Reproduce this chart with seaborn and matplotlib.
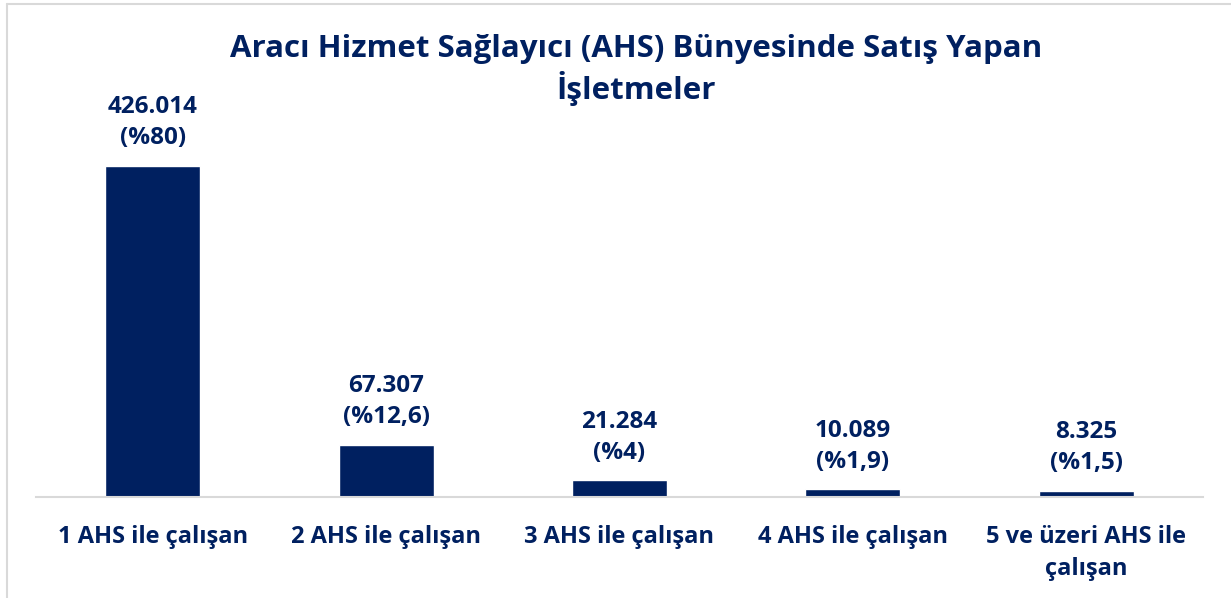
import matplotlib
matplotlib.use("Agg")
import matplotlib.pyplot as plt
import seaborn as sns
import pandas as pd
from matplotlib.lines import Line2D

categories = ["1 AHS ile çalışan", "2 AHS ile çalışan", "3 AHS ile çalışan",
              "4 AHS ile çalışan", "5 ve üzeri AHS ile\nçalışan"]
values = [426014, 67307, 21284, 10089, 8325]
value_labels = ["426.014", "67.307", "21.284", "10.089", "8.325"]
percent_labels = ["%80", "%12,6", "%4", "%1,9", "%1,5"]
title = "Aracı Hizmet Sağlayıcı (AHS) Bünyesinde Satış Yapan\nİşletmeler"

NAVY = "#002060"

sns.set_theme(style="white")
plt.rcParams["font.family"] = ["Open Sans", "DejaVu Sans"]

W, H = 1231, 598
fig = plt.figure(figsize=(W / 100, H / 100), dpi=100)
ax = fig.add_axes([36 / W, 101 / H, (1203 - 36) / W, 350 / H])

df = pd.DataFrame({"cat": categories, "val": values})
sns.barplot(data=df, x="cat", y="val", color=NAVY, saturation=1, width=0.407, ax=ax)

ax.set_ylim(0, 450000)
ax.set_xlim(-0.5, len(categories) - 0.5)
ax.set_xlabel("")
ax.set_ylabel("")
ax.set_yticks([])
for s in ["top", "right", "left"]:
    ax.spines[s].set_visible(False)
ax.spines["bottom"].set_color("#d9d9d9")
ax.spines["bottom"].set_linewidth(1.5)
ax.tick_params(axis="x", length=0, pad=20)
for lbl in ax.get_xticklabels():
    lbl.set_fontsize(17)
    lbl.set_fontweight("bold")
    lbl.set_color(NAVY)
    lbl.set_linespacing(1.48)
    lbl.set_va("top")

for p, v, pc in zip(ax.patches, value_labels, percent_labels):
    x = p.get_x() + p.get_width() / 2
    ax.annotate(f"{v}\n({pc})", (x, p.get_height()), xytext=(0, 11),
                textcoords="offset points", ha="center", va="bottom",
                fontsize=17.5, fontweight="bold", color=NAVY, linespacing=1.4)

fig.text(636 / W, 1 - 70 / H, title, ha="center", va="center", fontsize=22.5,
         fontweight="bold", color=NAVY, linespacing=1.25)

fig.add_artist(Line2D([7 / W, 7 / W], [0, 1 - 3.5 / H], transform=fig.transFigure,
                      color="#d9d9d9", lw=1.5))
fig.add_artist(Line2D([7 / W, 1], [1 - 3.5 / H, 1 - 3.5 / H], transform=fig.transFigure,
                      color="#d9d9d9", lw=1.5))

fig.savefig("out.png", dpi=100)
